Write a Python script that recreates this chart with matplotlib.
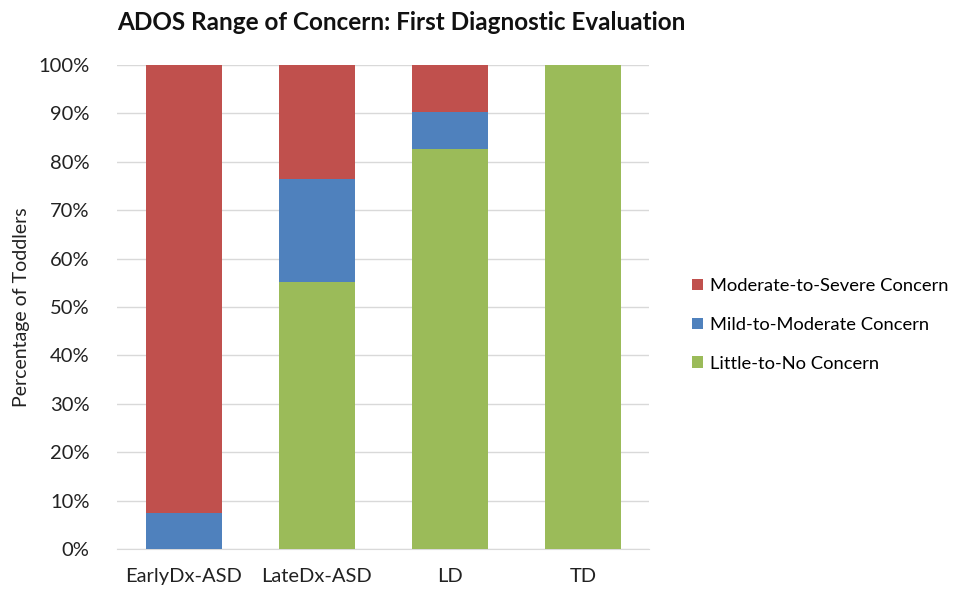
import matplotlib
matplotlib.use("Agg")
import matplotlib.pyplot as plt
from matplotlib.ticker import PercentFormatter

plt.rcParams['font.family'] = ['Lato', 'DejaVu Sans']

categories = ["EarlyDx-ASD", "LateDx-ASD", "LD", "TD"]
little = [0.0, 55.2, 82.6, 100.0]
mild = [7.4, 21.2, 7.7, 0.0]
moderate = [92.6, 23.6, 9.7, 0.0]

c_little = "#9bbb59"
c_mild = "#4f81bd"
c_mod = "#c0504d"

fig = plt.figure(figsize=(9.62, 5.96), dpi=100)
ax = fig.add_axes([0.122, 0.079, 0.553, 0.812])

x = range(len(categories))
w = 0.57
b1 = ax.bar(x, little, w, color=c_little, label="Little-to-No Concern", zorder=3)
bot2 = little
b2 = ax.bar(x, mild, w, bottom=bot2, color=c_mild, label="Mild-to-Moderate Concern", zorder=3)
bot3 = [a + b for a, b in zip(little, mild)]
b3 = ax.bar(x, moderate, w, bottom=bot3, color=c_mod, label="Moderate-to-Severe Concern", zorder=3)

ax.set_ylim(0, 100)
ax.set_xlim(-0.5, 3.5)
ax.set_yticks(range(0, 101, 10))
ax.yaxis.set_major_formatter(PercentFormatter(decimals=0))
ax.set_xticks(list(x))
ax.set_xticklabels(categories)
ax.tick_params(axis='both', length=0, labelsize=14.5, colors="#222222")
ax.tick_params(axis='y', pad=20)
ax.tick_params(axis='x', pad=14)
ax.grid(axis='y', color="#d9d9d9", linewidth=1, zorder=0)
for s in ["top", "right", "left"]:
    ax.spines[s].set_visible(False)
ax.spines["bottom"].set_color("#d9d9d9")
ax.set_ylabel("Percentage of Toddlers", fontsize=14, color="#222222", labelpad=6)

fig.text(0.122, 0.962, "ADOS Range of Concern: First Diagnostic Evaluation",
         fontsize=17.5, fontweight="bold", ha="left", va="center", color="#111111")

handles = [b3, b2, b1]
labels = [h.get_label() for h in handles]
fig.legend(handles, labels, loc="center left", bbox_to_anchor=(0.702, 0.455),
           frameon=False, fontsize=13.2, handlelength=0.6, handleheight=0.6,
           handletextpad=0.4, labelspacing=1.25)

fig.savefig("out.png", dpi=100)
